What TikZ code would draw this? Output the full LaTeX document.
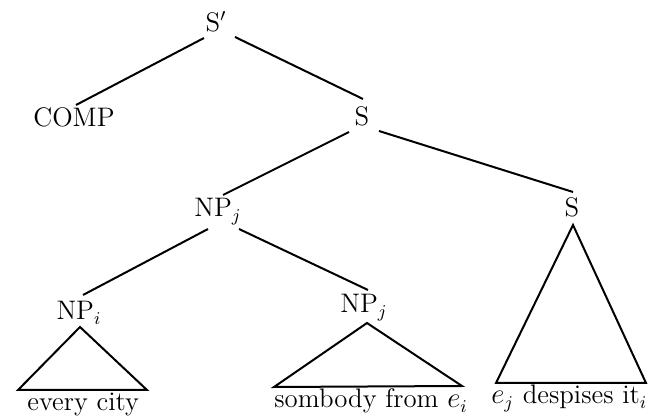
\documentclass[tikz,border=0pt]{standalone}
\usetikzlibrary{calc}
\begin{document}
\begin{tikzpicture}[x=0.5pt,y=-0.5pt,
  lbl/.style={inner sep=0pt, anchor=base, font=\fontsize{13.4}{15}\selectfont},
  leaf/.style={inner sep=0pt, anchor=base west, font=\fontsize{13.4}{15}\selectfont},
  ln/.style={line width=1pt, line join=miter}]
\useasboundingbox (0,0) rectangle (648,416);
% labels
\node[lbl] (sp)   at (216,32)  {S$'$};
\node[lbl] (comp) at (74,127)  {COMP};
\node[lbl] (s1)   at (362,126) {S};
\node[lbl] (npj)  at (218,217) {NP$_j$};
\node[lbl] (s2)   at (572,217) {S};
\node[lbl] (npi)  at (79,320)  {NP$_i$};
\node[lbl] (npjb) at (364,313) {NP$_j$};
% leaves
\node[leaf] (l1) at (27,411)  {every city};
\node[leaf] (l2) at (274,408) {sombody from $e_i$};
\node[leaf] (l3) at (491,404) {$e_j$ despises it$_i$};
% branches
\draw[ln] ($(sp.base)+(-12,6)$) -- ($(comp.base)+(2,-22)$);
\draw[ln] ($(sp.base)+(19,5)$) -- ($(s1.base)+(1,-27)$);
\draw[ln] ($(s1.base)+(-13,6)$) -- ($(npj.base)+(5,-22)$);
\draw[ln] ($(s1.base)+(17,5)$) -- ($(s2.base)+(1,-25)$);
\draw[ln] ($(npj.base)+(-10,12)$) -- ($(npi.base)+(4,-25)$);
\draw[ln] ($(npj.base)+(21,12)$) -- ($(npjb.base)+(4,-23)$);
% triangles
\draw[ln] ($(npi.base)+(1,7)$) -- ($(l1.base west)+(-9,-21)$) -- ($(l1.base west)+(120,-21)$) -- cycle;
\draw[ln] ($(npjb.base)+(3,10)$) -- ($(l2.base west)+(0,-21)$) -- ($(l2.base west)+(188,-22)$) -- cycle;
\draw[ln] ($(s2.base)+(1,8)$) -- ($(l3.base west)+(5,-21)$) -- ($(l3.base west)+(155,-21)$) -- cycle;
\end{tikzpicture}
\end{document}
